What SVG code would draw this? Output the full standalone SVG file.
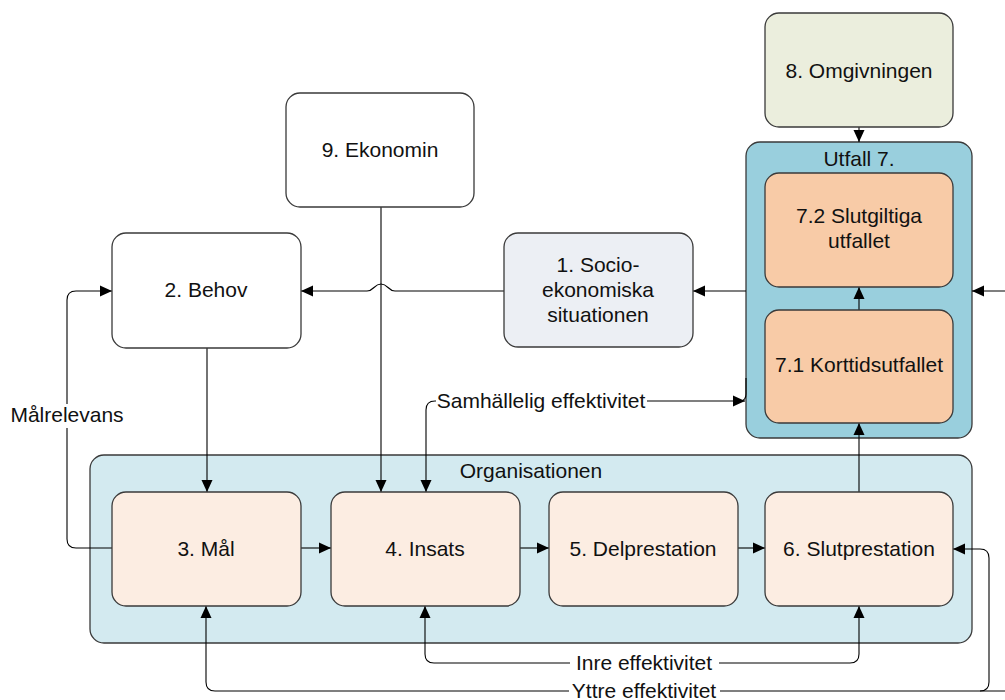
<svg xmlns="http://www.w3.org/2000/svg" width="1005" height="700" viewBox="0 0 1005 700">
<defs>
<marker id="arr" viewBox="0 0 12 12" markerWidth="12" markerHeight="12" refX="12" refY="6" orient="auto-start-reverse" markerUnits="userSpaceOnUse">
<path d="M0,0.5 L12,6 L0,11.5 Z" fill="#000"/>
</marker>
</defs>
<style>
text{font-family:"Liberation Sans",Arial,sans-serif;font-size:21px;fill:#111;text-anchor:middle}
.box{stroke:#3a3a3a;stroke-width:1.3}
.c{fill:none;stroke:#000;stroke-width:1.1}
.a{marker-end:url(#arr)}
.b{marker-start:url(#arr);marker-end:url(#arr)}
.bg{fill:#fff}
</style>
<rect width="1005" height="700" fill="#fff"/>

<g id="organisationen">
<rect class="box" x="90" y="455" width="882" height="188" rx="14" fill="#D3EAF0"/>
<text x="531" y="478">Organisationen</text>
</g>
<g id="utfall7">
<rect class="box" x="746" y="142" width="226" height="296" rx="14" fill="#99CFDD"/>
<text x="859" y="166">Utfall 7.</text>
</g>

<g id="connectors">
<path class="c a" d="M859 127 V142"/>
<path class="c a" d="M859 310 V287"/>
<path class="c a" d="M859 492 V423"/>
<path class="c a" d="M1005 291 H972"/>
<path class="c a" d="M746 291 H693"/>
<path class="c a" d="M504 291 H395 C388 291 388 284 381 284 C374 284 374 291 367 291 H301"/>
<path class="c a" d="M381 207 V492"/>
<path class="c a" d="M207 348 V492"/>
<path class="c a" d="M112 548 H76 Q67 548 67 539 V300 Q67 291 76 291 H112"/>
<path class="c a" d="M301 548 H331"/>
<path class="c a" d="M520 548 H549"/>
<path class="c a" d="M738 548 H765"/>
<path class="c b" d="M426 492 V410 Q426 401 435 401 H745"/>
<path class="c" d="M746 378 V394 Q746 400 741 401"/>
<path class="c b" d="M425 606 V654 Q425 663 434 663 H850 Q859 663 859 654 V606"/>
<path class="c a" d="M1005 691 H215 Q206 691 206 682 V606"/>
<path class="c a" d="M980 691 Q989 691 989 682 V558 Q989 549 980 549 H953"/>
<rect class="bg" x="6" y="404" width="121" height="24"/>
<text x="67" y="422">Målrelevans</text>
<rect class="bg" x="436" y="390" width="211" height="22"/>
<text x="541" y="408">Samhällelig effektivitet</text>
<rect class="bg" x="570" y="652" width="149" height="22"/>
<text x="644" y="670">Inre effektivitet</text>
<rect class="bg" x="569" y="680" width="151" height="20"/>
<text x="644" y="698">Yttre effektivitet</text>
</g>

<g id="n8">
<rect class="box" x="765" y="13" width="188" height="114" rx="14" fill="#EBEEDD"/>
<text x="859" y="78">8. Omgivningen</text>
</g>
<g id="n9">
<rect class="box" x="286" y="93" width="188" height="114" rx="14" fill="#fff"/>
<text x="380" y="157">9. Ekonomin</text>
</g>
<g id="n2">
<rect class="box" x="112" y="233" width="189" height="115" rx="14" fill="#fff"/>
<text x="206" y="297">2. Behov</text>
</g>
<g id="n1">
<rect class="box" x="504" y="233" width="189" height="114" rx="14" fill="#ECEFF4"/>
<text x="598" y="272">1. Socio-</text>
<text x="598" y="297">ekonomiska</text>
<text x="598" y="322">situationen</text>
</g>
<g id="n72">
<rect class="box" x="765" y="173" width="188" height="114" rx="14" fill="#F8CBA7"/>
<text x="859" y="223">7.2 Slutgiltiga</text>
<text x="859" y="248">utfallet</text>
</g>
<g id="n71">
<rect class="box" x="765" y="310" width="188" height="113" rx="14" fill="#F8CBA7"/>
<text x="859" y="372">7.1 Korttidsutfallet</text>
</g>
<g id="n3">
<rect class="box" x="112" y="492" width="189" height="114" rx="14" fill="#FCEDE2"/>
<text x="206" y="556">3. Mål</text>
</g>
<g id="n4">
<rect class="box" x="331" y="492" width="189" height="114" rx="14" fill="#FCEDE2"/>
<text x="425" y="556">4. Insats</text>
</g>
<g id="n5">
<rect class="box" x="549" y="492" width="189" height="114" rx="14" fill="#FCEDE2"/>
<text x="643" y="556">5. Delprestation</text>
</g>
<g id="n6">
<rect class="box" x="765" y="492" width="188" height="114" rx="14" fill="#FCEDE2"/>
<text x="859" y="556">6. Slutprestation</text>
</g>
</svg>
